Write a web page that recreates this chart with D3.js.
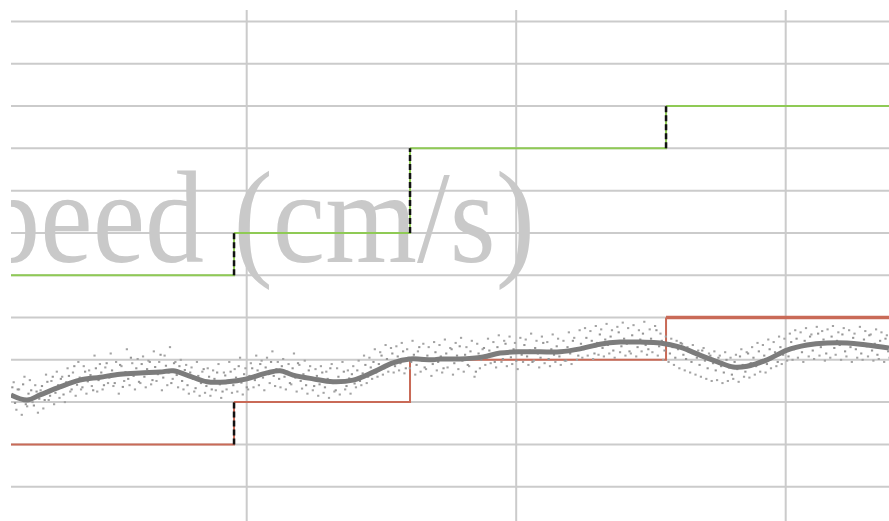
<!DOCTYPE html>
<html>
<head>
<meta charset="utf-8">
<script src="https://cdnjs.cloudflare.com/ajax/libs/d3/7.8.5/d3.min.js"></script>
<style>
  html, body { margin: 0; padding: 0; background: #fff; }
</style>
</head>
<body>
<div class="start"></div>
<script>
// time (s) and speed (cm/s)
var xGrid = [0, 10, 20, 30];
var yGrid = [3, 4, 5, 6, 7, 8, 9, 10, 11, 12, 13, 14, 15];

var stepTimes = [0, 9.53, 16.06, 25.56, 34];
var greenLevels = [9, 10, 12, 13, 13];
var redLevels = [5, 6, 7, 8, 8];
var greenDashed = [true, true, true];
var redDashed = [true, false, false];

var smoothT = [1.25, 1.85, 2.33, 3.07, 3.81, 4.56, 5.30, 6.04, 6.78, 7.27, 7.78, 8.53, 9.27, 10.01,
  10.75, 11.24, 11.72, 12.46, 13.20, 13.95, 14.69, 15.43, 16.06, 16.91, 17.17, 17.91, 18.77, 19.40,
  20.14, 20.88, 21.63, 22.37, 23.11, 23.85, 24.60, 25.34, 26.08, 26.82, 27.56, 28.05, 28.57, 29.31,
  30.05, 30.79, 31.53, 32.28, 33.02, 33.83];
var smoothV = [6.17, 6.05, 6.17, 6.36, 6.52, 6.59, 6.66, 6.69, 6.71, 6.74, 6.64, 6.48, 6.48, 6.55,
  6.69, 6.74, 6.64, 6.55, 6.48, 6.52, 6.71, 6.93, 7.02, 7.00, 7.02, 7.02, 7.07, 7.16,
  7.19, 7.19, 7.19, 7.26, 7.37, 7.42, 7.42, 7.40, 7.30, 7.11, 6.93, 6.83, 6.85, 7.00,
  7.23, 7.35, 7.40, 7.40, 7.35, 7.28];

// raw samples, close band
var scatter = [
  [1.3,6.35],[1.4,5.98],[1.5,6.30],[1.6,6.05],[1.7,6.42],[1.8,5.95],[1.9,6.20],[2.0,6.28],[2.1,5.92],[2.2,6.25],[2.3,6.08],
  [2.4,6.38],[2.5,6.05],[2.6,6.48],[2.7,6.15],[2.8,6.60],[2.9,6.22],[3.0,6.40],
  [3.1,6.55],[3.2,6.18],[3.3,6.47],[3.4,6.62],[3.5,6.30],[3.6,6.85],[3.7,6.41],[3.8,6.58],
  [3.9,6.35],[4.0,6.72],[4.1,6.49],[4.2,6.64],[4.3,6.28],[4.4,6.80],[4.5,6.52],
  [4.6,6.70],[4.7,6.40],[4.8,6.92],[4.9,6.58],[5.0,6.75],[5.1,6.45],[5.2,6.66],[5.3,6.88],[5.4,6.36],[5.5,6.71],
  [5.6,6.55],[5.7,7.05],[5.8,6.62],[5.9,6.80],[6.0,6.48],
  [6.1,6.90],[6.2,6.60],[6.3,6.78],[6.4,6.95],[6.5,6.52],[6.6,6.83],[6.7,6.66],[6.8,7.12],[6.9,6.58],[7.0,6.86],
  [7.1,6.70],[7.2,6.45],[7.3,6.92],
  [7.4,6.64],[7.5,6.85],[7.6,6.50],[7.7,6.76],[7.8,6.40],[7.9,6.70],[8.0,6.55],[8.1,6.33],[8.2,6.62],[8.3,6.45],
  [8.4,6.78],[8.5,6.38],
  [8.6,6.60],[8.7,6.30],[8.8,6.55],[8.9,6.70],[9.0,6.42],[9.1,6.25],[9.2,6.63],[9.3,6.50],
  [9.4,6.72],[9.5,6.40],[9.6,6.58],[9.7,6.85],[9.8,6.46],[9.9,6.66],[10.0,6.35],
  [10.1,6.62],[10.2,6.80],[10.3,6.52],[10.4,6.75],[10.5,6.90],[10.6,6.58],[10.7,6.82],[10.8,6.68],[10.9,6.95],
  [11.0,6.62],[11.1,6.78],[11.2,6.55],
  [11.3,6.85],[11.4,6.60],[11.5,6.72],[11.6,6.45],[11.7,6.80],[11.8,6.58],[11.9,6.92],[12.0,6.50],[12.1,6.66],
  [12.2,6.40],[12.3,6.75],[12.4,6.55],[12.5,6.38],
  [12.6,6.62],[12.7,6.42],[12.8,6.70],[12.9,6.35],[13.0,6.55],[13.1,6.80],[13.2,6.45],[13.3,6.28],[13.4,6.60],
  [13.5,6.48],[13.6,6.72],[13.7,6.38],[13.8,6.56],[13.9,6.66],[14.0,6.44],
  [14.1,6.75],[14.2,6.50],[14.3,6.68],[14.4,6.88],[14.5,6.60],[14.6,6.82],[14.7,6.95],[14.8,6.70],[14.9,6.90],
  [15.0,7.10],[15.1,6.80],[15.2,7.02],[15.3,6.88],[15.4,7.15],
  [15.5,6.85],[15.6,7.08],[15.7,6.92],[15.8,7.20],[15.9,6.80],[16.0,7.05],[16.1,6.95],[16.2,7.12],[16.3,6.88],
  [16.4,7.30],[16.5,6.98],[16.6,6.82],[16.7,7.10],[16.8,7.02],[16.9,6.90],[17.0,7.18],
  [17.1,6.95],[17.2,7.08],[17.3,6.80],[17.4,7.15],[17.5,7.00],[17.6,7.25],[17.7,6.92],[17.8,7.10],[17.9,7.32],
  [18.0,6.98],[18.1,7.12],[18.2,6.88],[18.3,7.20],[18.4,7.05],[18.5,6.72],[18.6,7.15],[18.7,7.00],[18.8,7.28],
  [18.9,7.05],[19.0,7.22],[19.1,7.10],[19.2,6.95],[19.3,7.30],[19.4,7.15],[19.5,7.02],[19.6,7.38],[19.7,7.18],
  [19.8,7.06],[19.9,7.25],[20.0,6.98],[20.1,7.20],[20.2,7.12],[20.3,7.35],[20.4,7.08],[20.5,7.22],[20.6,6.95],
  [20.7,7.28],[20.8,7.15],[20.9,7.05],[21.0,7.40],[21.1,7.18],[21.2,7.02],[21.3,7.25],[21.4,7.12],[21.5,7.32],
  [21.6,7.08],[21.7,7.20],[21.8,6.98],[21.9,7.30],[22.0,7.15],[22.1,7.45],[22.2,7.22],[22.3,7.10],[22.4,7.38],
  [22.5,7.25],[22.6,7.52],[22.7,7.30],[22.8,7.45],[22.9,7.15],[23.0,7.40],[23.1,7.60],[23.2,7.28],[23.3,7.48],
  [23.4,7.35],[23.5,7.55],[23.6,7.22],[23.7,7.42],[23.8,7.65],[23.9,7.32],[24.0,7.50],[24.1,7.38],[24.2,7.20],
  [24.3,7.58],[24.4,7.42],[24.5,7.30],[24.6,7.48],[24.7,7.62],[24.8,7.35],[24.9,7.25],[25.0,7.50],[25.1,7.40],
  [25.2,7.70],[25.3,7.32],
  [25.4,7.45],[25.5,7.22],[25.6,7.38],[25.7,7.15],[25.8,7.30],[25.9,7.05],[26.0,7.25],[26.1,7.40],[26.2,7.12],
  [26.3,7.02],[26.4,7.20],[26.5,6.95],[26.6,7.15],[26.7,7.05],[26.8,6.88],[26.9,7.22],[27.0,6.98],[27.1,6.80],
  [27.2,7.10],[27.3,6.92],[27.4,6.75],[27.5,7.05],[27.6,6.85],[27.7,6.70],[27.8,7.00],[27.9,6.82],[28.0,6.65],
  [28.1,6.95],[28.2,6.78],[28.3,7.08],[28.4,6.88],[28.5,6.72],[28.6,7.15],[28.7,6.92],[28.8,7.05],[28.9,6.85],
  [29.0,7.20],[29.1,6.98],[29.2,7.10],[29.3,6.90],[29.4,7.25],[29.5,7.05],[29.6,7.18],[29.7,6.95],[29.8,7.30],
  [29.9,7.12],[30.0,7.22],
  [30.1,7.08],[30.2,7.42],[30.3,7.25],[30.4,7.50],[30.5,7.30],[30.6,7.18],[30.7,7.45],[30.8,7.35],[30.9,7.55],
  [31.0,7.22],[31.1,7.40],[31.2,7.62],[31.3,7.30],[31.4,7.48],[31.5,7.15],[31.6,7.38],[31.7,7.55],[31.8,7.28],
  [31.9,7.45],[32.0,7.35],[32.1,7.60],[32.2,7.20],[32.3,7.42],[32.4,7.30],[32.5,7.52],[32.6,7.25],[32.7,7.40],
  [32.8,7.15],[32.9,7.48],[33.0,7.32],[33.1,7.58],[33.2,7.22],[33.3,7.38],[33.4,7.12],[33.5,7.45],[33.6,7.28],
  [33.7,7.50],[33.8,7.20]
];

// raw samples, wider spread
var scatterWide = [
  [1.35,6.47],[1.45,5.82],[1.55,6.30],[1.65,5.70],[1.75,6.60],[1.85,5.90],[1.95,6.52],[2.05,6.00],[2.15,6.40],[2.25,5.75],
  [2.35,6.28],[2.45,5.85],[2.55,6.65],[2.65,6.05],[2.75,6.50],[2.85,5.95],[2.95,6.72],
  [3.05,6.10],[3.15,6.60],[3.25,6.00],[3.35,6.80],[3.45,6.25],[3.55,6.70],[3.65,6.15],[3.75,6.95],
  [3.85,6.30],[3.95,6.85],[4.05,6.20],[4.15,6.75],[4.25,6.38],[4.35,7.10],[4.45,6.25],
  [4.55,6.90],[4.65,6.30],[4.75,6.82],[4.85,6.45],[4.95,7.15],[5.05,6.38],[5.15,6.95],[5.25,6.20],[5.35,6.85],
  [5.45,6.50],[5.55,7.25],[5.65,6.40],[5.75,6.92],[5.85,6.30],[5.95,7.02],
  [6.05,6.45],[6.15,7.08],[6.25,6.35],[6.35,6.98],[6.45,6.42],[6.55,7.20],[6.65,6.50],[6.75,6.95],[6.85,6.28],
  [6.95,7.10],[7.05,6.40],[7.15,7.30],[7.25,6.55],
  [7.35,6.95],[7.45,6.35],[7.55,7.00],[7.65,6.30],[7.75,6.88],[7.85,6.20],[7.95,6.82],[8.05,6.25],[8.15,6.95],
  [8.25,6.15],[8.35,6.72],[8.45,6.22],
  [8.55,6.80],[8.65,6.15],[8.75,6.75],[8.85,6.28],[8.95,6.90],[9.05,6.10],[9.15,6.70],[9.25,6.30],[9.35,6.95],
  [9.45,6.22],[9.55,6.78],[9.65,6.25],[9.75,7.05],[9.85,6.18],[9.95,6.80],
  [10.05,6.30],[10.15,6.92],[10.25,6.35],[10.35,7.10],[10.45,6.40],[10.55,6.98],[10.65,6.28],[10.75,7.05],
  [10.85,6.45],[10.95,7.20],[11.05,6.38],[11.15,6.95],
  [11.25,6.35],[11.35,7.02],[11.45,6.30],[11.55,6.90],[11.65,6.42],[11.75,7.15],[11.85,6.25],[11.95,6.88],
  [12.05,6.32],[12.15,6.98],[12.25,6.20],[12.35,6.85],[12.45,6.28],
  [12.55,6.78],[12.65,6.15],[12.75,6.85],[12.85,6.22],[12.95,6.72],[13.05,6.10],[13.15,6.90],[13.25,6.25],
  [13.35,6.80],[13.45,6.18],[13.55,6.95],[13.65,6.30],[13.75,6.75],[13.85,6.20],[13.95,6.85],
  [14.05,6.35],[14.15,6.98],[14.25,6.40],[14.35,7.10],[14.45,6.45],[14.55,7.05],[14.65,6.55],[14.75,7.25],
  [14.85,6.60],[14.95,7.18],[15.05,6.65],[15.15,7.35],[15.25,6.72],[15.35,7.28],
  [15.45,6.70],[15.55,7.32],[15.65,6.75],[15.75,7.40],[15.85,6.68],[15.95,7.25],[16.05,6.80],[16.15,7.45],
  [16.25,6.65],[16.35,7.20],[16.45,6.72],[16.55,7.38],[16.65,6.78],[16.75,7.30],[16.85,6.62],[16.95,7.42],
  [17.05,6.75],[17.15,7.35],[17.25,6.70],[17.35,7.48],[17.45,6.82],[17.55,7.28],[17.65,6.65],[17.75,7.40],
  [17.85,6.78],[17.95,7.52],[18.05,6.72],[18.15,7.30],[18.25,6.85],[18.35,7.45],[18.45,6.60],[18.55,7.38],
  [18.65,6.80],[18.75,7.25],
  [18.85,6.88],[18.95,7.50],[19.05,6.92],[19.15,7.42],[19.25,6.82],[19.35,7.58],[19.45,6.95],[19.55,7.45],
  [19.65,6.85],[19.75,7.55],[19.85,6.90],[19.95,7.40],[20.05,6.78],[20.15,7.52],[20.25,6.95],[20.35,7.48],
  [20.45,6.88],[20.55,7.62],[20.65,6.98],[20.75,7.45],[20.85,6.82],[20.95,7.55],[21.05,6.92],[21.15,7.42],
  [21.25,6.85],[21.35,7.60],[21.45,6.95],[21.55,7.50],[21.65,6.88],[21.75,7.45],[21.85,6.98],[21.95,7.65],
  [22.05,6.90],[22.15,7.52],[22.25,7.00],[22.35,7.70],
  [22.45,7.05],[22.55,7.75],[22.65,7.10],[22.75,7.68],[22.85,7.02],[22.95,7.80],[23.05,7.12],[23.15,7.72],
  [23.25,7.08],[23.35,7.85],[23.45,7.15],[23.55,7.70],[23.65,7.05],[23.75,7.78],[23.85,7.18],[23.95,7.88],
  [24.05,7.10],[24.15,7.75],[24.25,7.15],[24.35,7.82],[24.45,7.08],[24.55,7.70],[24.65,7.20],[24.75,7.90],
  [24.85,7.12],[24.95,7.72],[25.05,7.18],[25.15,7.80],[25.25,7.10],
  [25.35,7.62],[25.45,7.00],[25.55,7.55],[25.65,6.95],[25.75,7.50],[25.85,6.88],[25.95,7.45],[26.05,6.80],
  [26.15,7.38],[26.25,6.75],[26.35,7.30],[26.45,6.70],[26.55,7.35],[26.65,6.65],[26.75,7.22],[26.85,6.60],
  [26.95,7.28],[27.05,6.55],[27.15,7.15],[27.25,6.50],[27.35,7.20],[27.45,6.52],[27.55,7.10],[27.65,6.45],
  [27.75,7.18],[27.85,6.50],[27.95,7.05],
  [28.05,6.55],[28.15,7.12],[28.25,6.48],[28.35,7.25],[28.45,6.60],[28.55,7.18],[28.65,6.58],[28.75,7.30],
  [28.85,6.65],[28.95,7.40],[29.05,6.72],[29.15,7.35],[29.25,6.70],[29.35,7.48],[29.45,6.80],[29.55,7.42],
  [29.65,6.85],[29.75,7.55],[29.85,6.90],[29.95,7.50],
  [30.05,6.98],[30.15,7.62],[30.25,7.00],[30.35,7.70],[30.45,7.05],[30.55,7.65],[30.65,6.95],[30.75,7.75],
  [30.85,7.08],[30.95,7.60],[31.05,7.02],[31.15,7.78],[31.25,7.10],[31.35,7.68],[31.45,6.98],[31.55,7.72],
  [31.65,7.05],[31.75,7.80],[31.85,7.12],[31.95,7.65],[32.05,7.00],[32.15,7.75],[32.25,7.08],[32.35,7.70],
  [32.45,6.95],[32.55,7.62],[32.65,7.05],[32.75,7.78],[32.85,7.00],[32.95,7.68],[33.05,7.08],[33.15,7.60],
  [33.25,6.98],[33.35,7.72],[33.45,7.02],[33.55,7.65],[33.65,6.95],[33.75,7.58],[33.85,7.05]
];

var axisLabel = "Speed (cm/s)";

var width = 889, height = 521;
var clipLeft = 11, clipTop = 10;

var x = d3.scaleLinear().domain([10, 30]).range([246.7, 785.7]);
var y = d3.scaleLinear().domain([4, 15]).range([486.7, 21.5]);

var svg = d3.select('.start')
  .append('svg')
  .attr('width', width)
  .attr('height', height)
  .attr('class', 'canvas');

svg.append('clipPath').attr('id', 'plot')
  .append('rect')
  .attr('x', clipLeft).attr('y', clipTop)
  .attr('width', width - clipLeft).attr('height', height - clipTop);

var g = svg.append('g').attr('clip-path', 'url(#plot)');

// grid
g.selectAll('.hgrid').data(yGrid).enter()
  .append('line')
  .attr('x1', clipLeft).attr('x2', width)
  .attr('y1', function(d) { return y(d); })
  .attr('y2', function(d) { return y(d); })
  .attr('stroke', '#cbcbcb').attr('stroke-width', 2);

g.selectAll('.vgrid').data(xGrid).enter()
  .append('line')
  .attr('x1', function(d) { return x(d); })
  .attr('x2', function(d) { return x(d); })
  .attr('y1', clipTop).attr('y2', height)
  .attr('stroke', '#cbcbcb').attr('stroke-width', 2);

// big axis label, partly off to the left
g.append('text')
  .attr('transform', 'translate(535,262) scale(1,1.12)')
  .attr('text-anchor', 'end')
  .attr('font-family', '"Liberation Serif", "Times New Roman", serif')
  .attr('font-size', 118)
  .attr('fill', '#c9c9c9')
  .text(axisLabel);

function drawSteps(levels, color, widths) {
  var pts = stepTimes.map(function(t, i) { return [t, levels[i]]; });
  var line = d3.line().x(function(d) { return x(d[0]); }).y(function(d) { return y(d[1]); });
  for (var i = 0; i < pts.length - 1; i++) {
    var seg = [pts[i], [pts[i + 1][0], pts[i][1]]];
    if (i < pts.length - 2) seg.push([pts[i + 1][0], pts[i + 1][1]]);
    g.append('path')
      .attr('d', line(seg))
      .attr('fill', 'none')
      .attr('stroke', color)
      .attr('stroke-width', widths[i]);
  }
  return pts;
}

var greenPts = drawSteps(greenLevels, '#8fca55', [2, 2, 2, 2]);
var redPts = drawSteps(redLevels, '#c96a57', [2, 2, 2, 3.5]);

// scatter of raw speed
function drawDots(data, color) {
  g.selectAll(null).data(data).enter()
    .append('rect')
    .attr('x', function(d) { return x(d[0]) - 1; })
    .attr('y', function(d) { return y(d[1]) - 1; })
    .attr('width', 2.2).attr('height', 2)
    .attr('fill', color);
}
drawDots(scatterWide, '#a3a3a3');
drawDots(scatter, '#959595');

// smoothed speed
var smooth = smoothT.map(function(t, i) { return [t, smoothV[i]]; });
g.append('path')
  .attr('d', d3.line()
    .x(function(d) { return x(d[0]); })
    .y(function(d) { return y(d[1]); })
    .curve(d3.curveCatmullRom)(smooth))
  .attr('fill', 'none')
  .attr('stroke', '#7c7c7c')
  .attr('stroke-width', 5);

// dashed connectors at each step change
function drawDashes(pts, dashed) {
  dashed.forEach(function(on, i) {
    if (!on) return;
    var t = pts[i + 1][0];
    g.append('line')
      .attr('x1', x(t)).attr('x2', x(t))
      .attr('y1', y(pts[i][1])).attr('y2', y(pts[i + 1][1]))
      .attr('stroke', '#111')
      .attr('stroke-width', 2.5)
      .attr('stroke-dasharray', '6,3');
  });
}
drawDashes(greenPts, greenDashed);
drawDashes(redPts, redDashed);
</script>
</body>
</html>
